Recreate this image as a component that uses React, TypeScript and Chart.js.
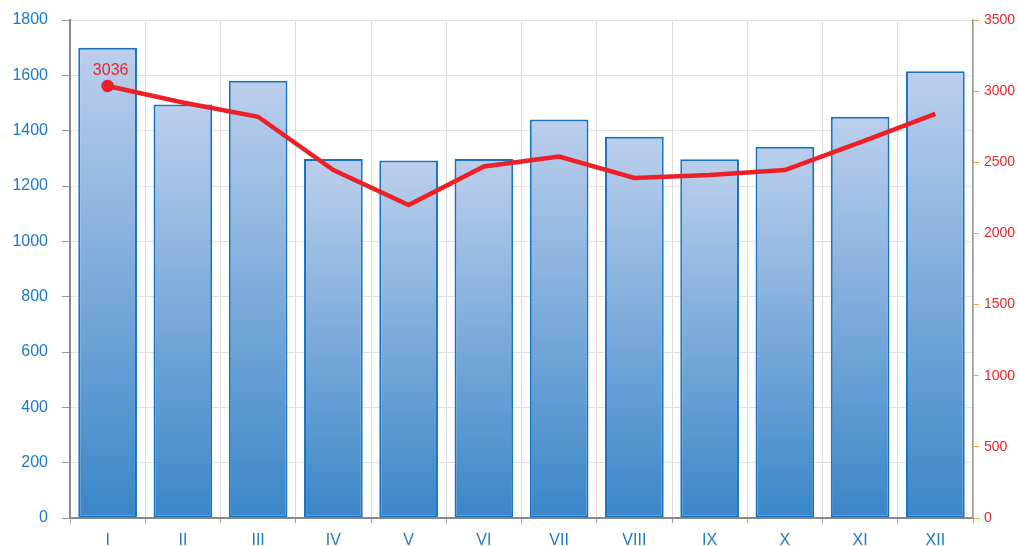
import React, { useEffect, useRef } from "react";
import { Chart, registerables } from "chart.js";

Chart.register(...registerables);

const categories = ["I", "II", "III", "IV", "V", "VI", "VII", "VIII", "IX", "X", "XI", "XII"];
const barValues = [1700, 1495, 1580, 1298, 1292, 1298, 1440, 1378, 1297, 1342, 1450, 1615];
const lineValues = [3036, 2920, 2820, 2445, 2200, 2470, 2540, 2390, 2410, 2445, 2640, 2840];
const labelIndex = 0;

const FONT = "'Liberation Sans', Arial, sans-serif";

const pointLabelPlugin = {
  id: "pointLabel",
  afterDatasetsDraw(chart: any) {
    const meta = chart.getDatasetMeta(1);
    const pt = meta.data[labelIndex];
    if (!pt) return;
    const ctx = chart.ctx;
    ctx.save();
    ctx.fillStyle = "#e8262d";
    ctx.font = `16px ${FONT}`;
    ctx.textAlign = "center";
    ctx.textBaseline = "bottom";
    ctx.fillText(String(lineValues[labelIndex]), pt.x + 3, pt.y - 7);
    ctx.restore();
  },
};

export default function App() {
  const ref = useRef<HTMLCanvasElement>(null);
  useEffect(() => {
    document.body.style.margin = "0";
    if (!ref.current) return;
    const chart = new Chart(ref.current, {
      type: "bar",
      data: {
        labels: categories,
        datasets: [
          {
            type: "bar",
            data: barValues,
            yAxisID: "y",
            order: 1,
            borderColor: "#1874c1",
            borderWidth: 2,
            borderSkipped: false,
            barPercentage: 0.78,
            categoryPercentage: 1,
            backgroundColor: (c: any) => {
              const ch = c.chart;
              const sc = ch.scales && ch.scales.y;
              if (!ch.chartArea || !sc || c.raw == null) return "#7aa5da";
              const top = sc.getPixelForValue(c.raw);
              const bottom = sc.getPixelForValue(0);
              const g = ch.ctx.createLinearGradient(0, top, 0, bottom);
              g.addColorStop(0, "#bccfec");
              g.addColorStop(1, "#3a86c8");
              return g;
            },
          },
          {
            type: "line",
            data: lineValues,
            yAxisID: "y1",
            order: 0,
            borderColor: "#ee2027",
            backgroundColor: "#ee2027",
            borderWidth: 4.5,
            tension: 0,
            pointRadius: lineValues.map((_, i) => (i === labelIndex ? 4 : 0)),
            pointHoverRadius: 0,
          },
        ],
      },
      options: {
        responsive: false,
        animation: false,
        layout: { padding: { top: 20, right: 0, left: 0, bottom: 0 } },
        plugins: { legend: { display: false }, tooltip: { enabled: false } },
        scales: {
          x: {
            offset: true,
            grid: { offset: true, color: "#dcdcdc", tickColor: "#999", tickLength: 5 },
            border: { color: "#8a8a8a", width: 2 },
            ticks: { color: "#1a7ac7", font: { size: 16, family: FONT }, padding: 8 },
            afterFit: (s: any) => { s.height = 28; s.paddingLeft = 0; s.paddingRight = 0; },
          },
          y: {
            position: "left",
            min: 0,
            max: 1800,
            ticks: {
              stepSize: 200,
              color: "#1a7ac7",
              font: { size: 16, family: FONT },
              padding: 14,
              callback: (v: any) => String(v),
            },
            grid: { color: "#e2e2e2", tickColor: "#999", tickLength: 8 },
            border: { color: "#8a8a8a", width: 2 },
            afterFit: (s: any) => { s.width = 70; s.paddingTop = 0; s.paddingBottom = 0; },
          },
          y1: {
            position: "right",
            min: 0,
            max: 3500,
            ticks: {
              stepSize: 500,
              color: "#e8262d",
              font: { size: 14, family: FONT },
              padding: 5,
              callback: (v: any) => String(v),
            },
            grid: { drawOnChartArea: false, tickColor: "#f5a040", tickLength: 6 },
            border: { color: "#9a9a9a", width: 1.5 },
            afterFit: (s: any) => { s.width = 45; s.paddingTop = 0; s.paddingBottom = 0; },
          },
        },
      },
      plugins: [pointLabelPlugin],
    } as any);
    return () => chart.destroy();
  }, []);
  return (
    <div style={{ width: 1018, height: 546 }}>
      <canvas ref={ref} width={1018} height={546} style={{ display: "block" }} />
    </div>
  );
}
